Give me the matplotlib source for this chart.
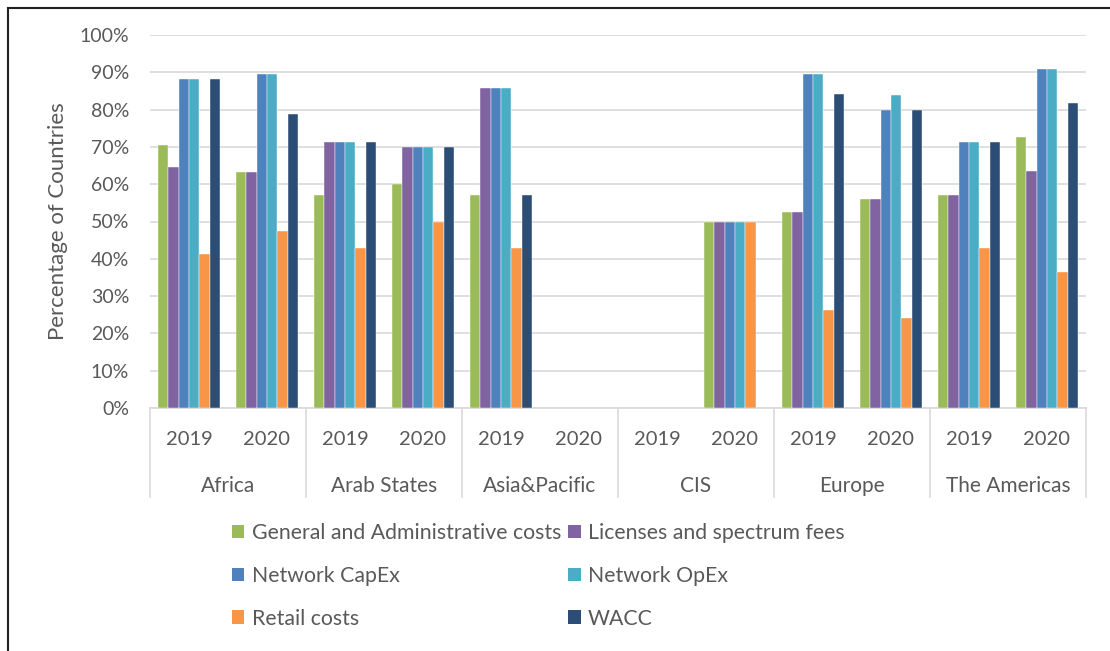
import numpy as np
import matplotlib.pyplot as plt
from matplotlib.patches import Patch
from matplotlib.lines import Line2D

plt.rcParams['font.family'] = ['Lato', 'DejaVu Sans']

regions = ['Africa', 'Arab States', 'Asia&Pacific', 'CIS', 'Europe', 'The Americas']
years = ['2019', '2020']

series = ['General and Administrative costs', 'Licenses and spectrum fees',
          'Network CapEx', 'Network OpEx', 'Retail costs', 'WACC']
colors = ['#9BBB59', '#8064A2', '#4F81BD', '#4BACC6', '#F79646', '#2C4D75']

nan = np.nan
# order: Africa 19, Africa 20, Arab 19, Arab 20, Asia 19, Asia 20, CIS 19, CIS 20, Europe 19, Europe 20, Americas 19, Americas 20
gen_admin = [70.6, 63.2, 57.1, 60.0, 57.1, nan, nan, 50.0, 52.6, 56.0, 57.1, 72.7]
licenses = [64.7, 63.2, 71.4, 70.0, 85.7, nan, nan, 50.0, 52.6, 56.0, 57.1, 63.6]
capex = [88.2, 89.5, 71.4, 70.0, 85.7, nan, nan, 50.0, 89.5, 80.0, 71.4, 90.9]
opex = [88.2, 89.5, 71.4, 70.0, 85.7, nan, nan, 50.0, 89.5, 84.0, 71.4, 90.9]
retail = [41.2, 47.4, 42.9, 50.0, 42.9, nan, nan, 50.0, 26.3, 24.0, 42.9, 36.4]
wacc = [88.2, 78.9, 71.4, 70.0, 57.1, nan, nan, nan, 84.2, 80.0, 71.4, 81.8]

data = [gen_admin, licenses, capex, opex, retail, wacc]

fig = plt.figure(figsize=(11.1, 6.51), dpi=100)
ax = fig.add_axes([150 / 1110, 1 - 408 / 651, 936 / 1110, 373 / 651])

n = len(gen_admin)
x = np.arange(n)
bw = 0.795 / len(series)
for k, (vals, c) in enumerate(zip(data, colors)):
    off = (k - (len(series) - 1) / 2) * bw
    ax.bar(x + off, np.array(vals) / 100, bw, color=c, edgecolor='white',
           linewidth=0.3, zorder=3)

ax.set_xlim(-0.5, n - 0.5)
ax.set_ylim(0, 1)
ax.set_yticks(np.arange(0, 1.01, 0.1))
ax.set_yticklabels([f'{int(round(v * 100))}%' for v in np.arange(0, 1.01, 0.1)])
ax.tick_params(axis='y', length=0, labelsize=14, colors='#595959', pad=15)
ax.grid(axis='y', color='#D9D9D9', linewidth=1.2, zorder=0)
for s in ['top', 'right', 'left']:
    ax.spines[s].set_visible(False)
ax.spines['bottom'].set_color('#D9D9D9')
ax.spines['bottom'].set_linewidth(1.2)
ax.set_xticks([])

ax.set_ylabel('Percentage of Countries', fontsize=16, color='#595959', labelpad=8)

# two-level category axis
tr = ax.get_xaxis_transform()
for i in range(n):
    ax.text(x[i], -0.084, years[i % 2], transform=tr, ha='center', va='center',
            fontsize=14.5, color='#595959')
for r, name in enumerate(regions):
    ax.text(2 * r + 0.5, -0.21, name, transform=tr, ha='center', va='center',
            fontsize=15, color='#595959')
for b in range(len(regions) + 1):
    ax.add_line(Line2D([2 * b - 0.5, 2 * b - 0.5], [0, -0.238], transform=tr,
                       color='#D9D9D9', linewidth=1.2, clip_on=False))

# legend (row-wise order)
handles = [Patch(facecolor=c) for c in colors]
order = [0, 2, 4, 1, 3, 5]
fig.legend([handles[i] for i in order], [series[i] for i in order], ncol=2,
           loc='upper left', bbox_to_anchor=(232 / 1110, 1 - 523 / 651),
           frameon=False, fontsize=15.3, labelcolor='#595959',
           handlelength=0.58, handleheight=0.63, handletextpad=0.34,
           columnspacing=0.35, labelspacing=1.08, borderpad=0, borderaxespad=0)

# outer frame (left and top edges visible)
fig.add_artist(Line2D([7.5 / 1110, 7.5 / 1110], [0, 1 - 8 / 651], color='#222222', linewidth=1.5))
fig.add_artist(Line2D([7.5 / 1110, 1], [1 - 8 / 651, 1 - 8 / 651], color='#222222', linewidth=1.5))

fig.savefig('out.png', dpi=100)
